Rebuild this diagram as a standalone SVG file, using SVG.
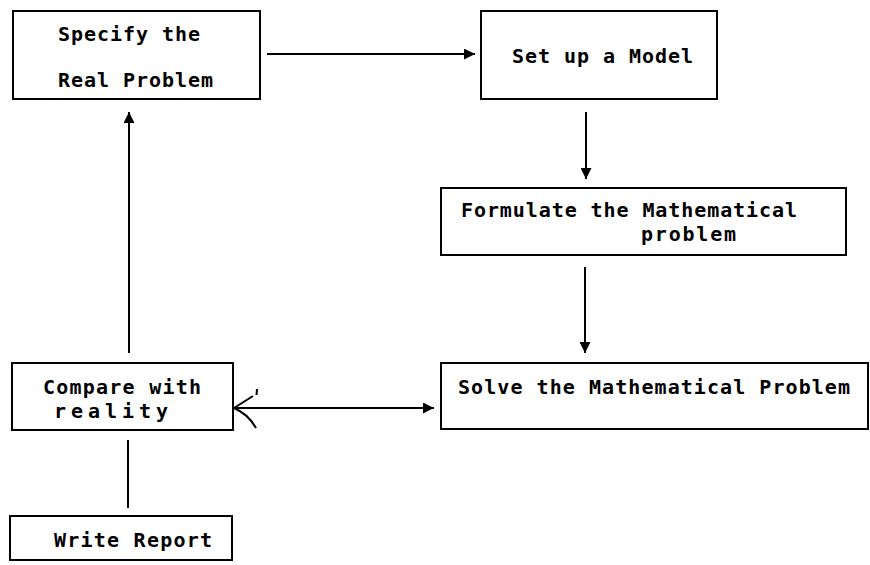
<svg xmlns="http://www.w3.org/2000/svg" width="870" height="565" viewBox="0 0 870 565">
<style>
.box{fill:#fff;stroke:#000;stroke-width:2}
.t{font-family:"DejaVu Sans Mono","Liberation Mono",monospace;font-weight:bold;font-size:20px;fill:#000}
.c{stroke:#000;stroke-width:2;fill:none}
</style>
<defs>
<marker id="ah" viewBox="0 0 10 10" refX="10" refY="5" markerWidth="11" markerHeight="11" markerUnits="userSpaceOnUse" orient="auto">
<path d="M0,0 L10,5 L0,10 Z" fill="#000"/>
</marker>
</defs>
<rect width="870" height="565" fill="#fff"/>
<g id="connectors">
<line class="c" x1="267" y1="54" x2="475" y2="54" marker-end="url(#ah)"/>
<line class="c" x1="586" y1="112" x2="586" y2="179" marker-end="url(#ah)"/>
<line class="c" x1="585" y1="267" x2="585" y2="353" marker-end="url(#ah)"/>
<line class="c" x1="129" y1="353" x2="129" y2="112" marker-end="url(#ah)"/>
<line class="c" x1="128" y1="508" x2="128" y2="440"/>
<line class="c" x1="234" y1="408" x2="434" y2="408" marker-end="url(#ah)"/>
<path class="c" d="M253,396 L234,408 Q248,414 256,428"/>
<line class="c" x1="257" y1="389" x2="256.5" y2="395" stroke-width="2.5"/>
</g>
<g id="specify">
<rect class="box" x="13" y="11" width="247" height="88"/>
<text class="t" x="58" y="41" textLength="142">Specify the</text>
<text class="t" x="58" y="87" textLength="155">Real Problem</text>
</g>
<g id="model">
<rect class="box" x="481" y="11" width="236" height="88"/>
<text class="t" x="512" y="63" textLength="181">Set up a Model</text>
</g>
<g id="formulate">
<rect class="box" x="441" y="188" width="405" height="67"/>
<text class="t" x="461" y="217" textLength="336">Formulate the Mathematical</text>
<text class="t" x="641" y="241" textLength="95">problem</text>
</g>
<g id="solve">
<rect class="box" x="441" y="363" width="427" height="66"/>
<text class="t" x="458" y="394" textLength="392">Solve the Mathematical Problem</text>
</g>
<g id="compare">
<rect class="box" x="12" y="363" width="221" height="67"/>
<text class="t" x="43" y="394" textLength="158">Compare with</text>
<text class="t" x="54" y="418" textLength="114">reality</text>
</g>
<g id="report">
<rect class="box" x="10" y="516" width="222" height="44"/>
<text class="t" x="54" y="547" textLength="158">Write Report</text>
</g>
</svg>
